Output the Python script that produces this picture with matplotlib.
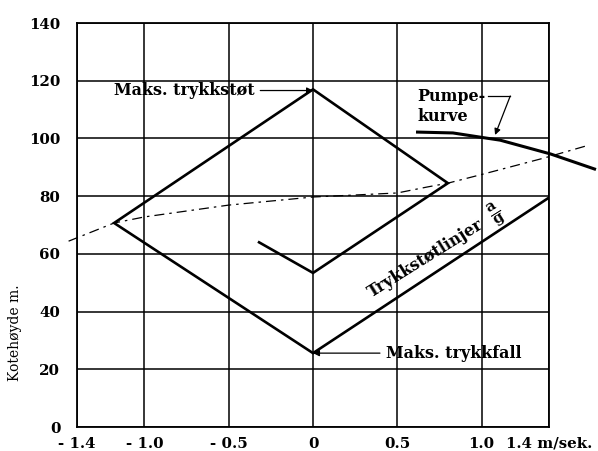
import matplotlib.pyplot as plt

# Trykkstøt-diagram: hastighet (m/sek.) mot kotehøyde (m)
path_x = [-0.32, 0.0, 0.80, 0.0, -1.18, 0.0, 1.40]
path_y = [64.0, 53.4, 84.5, 117.0, 70.7, 25.6, 79.5]

# rørkarakteristikk (strek-punkt)
sys_x = [-1.45, -1.18, -1.0, -0.5, 0.0, 0.5, 0.68, 0.80, 1.0, 1.37, 1.62]
sys_y = [64.4, 70.7, 72.8, 76.9, 79.7, 81.1, 83.2, 84.5, 87.5, 93.2, 97.4]

# pumpekurve
pump_x = [0.62, 0.83, 1.03, 1.11, 1.41, 1.67]
pump_y = [102.2, 101.9, 100.1, 99.4, 94.6, 89.4]

x_ticks = [-1.4, -1.0, -0.5, 0.0, 0.5, 1.0, 1.4]
x_labels = ["- 1.4", "- 1.0", "- 0.5", "0", "0.5", "1.0", "1.4 m/sek."]
y_ticks = [0, 20, 40, 60, 80, 100, 120, 140]

FONT = "DejaVu Serif"
plt.rcParams["mathtext.fontset"] = "dejavuserif"

fig = plt.figure(figsize=(5.98, 4.51), dpi=100)
ax = fig.add_axes([0.1288, 0.0532, 0.7893, 0.8958])

ax.set_xlim(-1.4, 1.4)
ax.set_ylim(0, 140)
ax.set_xticks(x_ticks)
ax.set_xticklabels(x_labels)
ax.set_yticks(y_ticks)
ax.grid(True, color="k", lw=1.1)
ax.set_axisbelow(True)
for s in ax.spines.values():
    s.set_linewidth(1.3)
ax.tick_params(axis="both", length=0)
ax.tick_params(axis="y", pad=12)
ax.tick_params(axis="x", pad=7)
for lab in ax.get_xticklabels() + ax.get_yticklabels():
    lab.set_fontfamily(FONT)
    lab.set_fontweight("bold")
    lab.set_fontsize(10.8)

ax.text(-0.131, 0.233, "Kotehøyde m.", transform=ax.transAxes, rotation=90,
        ha="center", va="center", fontsize=10, family=FONT)

# linjer
ax.plot(sys_x, sys_y, color="k", lw=0.9, ls=(0, (8, 4, 2, 4)), clip_on=False)
ax.plot(path_x, path_y, color="k", lw=1.9, solid_joinstyle="miter")
ax.plot(pump_x, pump_y, color="k", lw=2.2, clip_on=False)

arrow = dict(arrowstyle="-|>", lw=0.9, color="k", mutation_scale=9,
             shrinkA=2, shrinkB=0)
txt = dict(family=FONT, fontweight="bold", fontsize=11.5)

ax.annotate("Maks. trykkstøt", xy=(0, 116.6), xytext=(-1.18, 116.6),
            ha="left", va="center", arrowprops=arrow, **txt)
ax.annotate("Maks. trykkfall", xy=(0, 25.6), xytext=(0.43, 25.6),
            ha="left", va="center", arrowprops=arrow, **txt)

ax.text(0.62, 111.0, "Pumpe-\nkurve", ha="left", va="center",
        linespacing=1.25, **txt)
ax.plot([1.04, 1.17], [114.7, 114.7], color="k", lw=0.9)
ax.annotate("", xy=(1.08, 101.2), xytext=(1.17, 114.7),
            arrowprops=dict(arrow, shrinkA=0))

ax.text(0.667, 58.2, "Trykkstøtlinjer", rotation=32, rotation_mode="anchor",
        ha="center", va="center", **txt)
ax.text(1.09, 73.8, r"$\mathbf{\frac{a}{g}}$", rotation=32,
        rotation_mode="anchor", ha="center", va="center", fontsize=15)

fig.savefig("out.png", dpi=100, facecolor="white")
